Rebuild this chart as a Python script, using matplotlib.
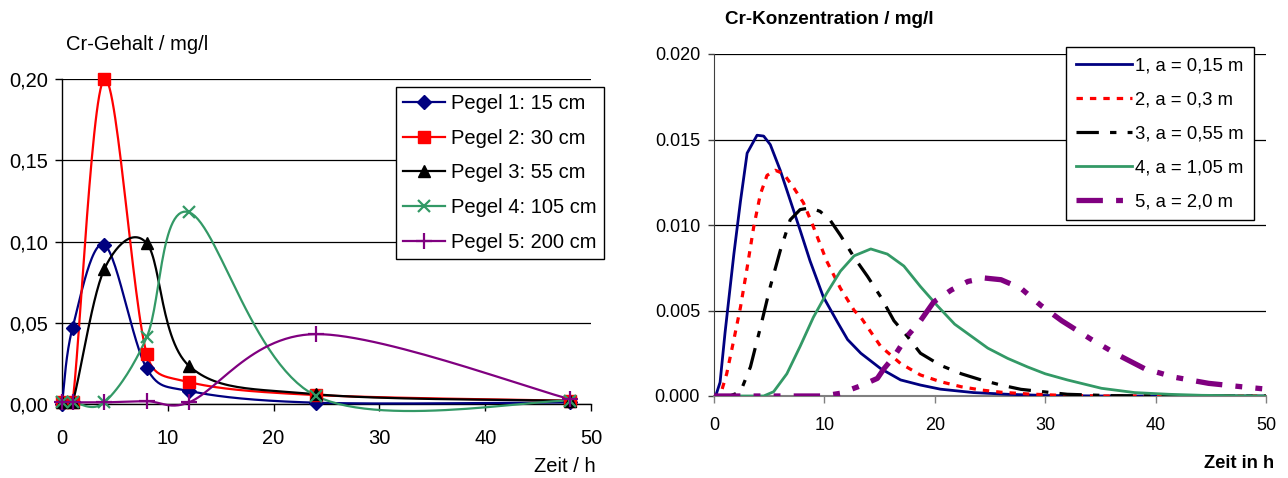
import numpy as np
import matplotlib
matplotlib.use("Agg")
import matplotlib.pyplot as plt
from matplotlib.lines import Line2D

plt.rcParams['font.family'] = ['Liberation Sans', 'DejaVu Sans']

# ---------------- Left chart: measured data ----------------
zeit_mess = [0, 1, 4, 8, 12, 24, 48]
pegel_labels = ["Pegel 1: 15 cm", "Pegel 2: 30 cm", "Pegel 3: 55 cm",
                "Pegel 4: 105 cm", "Pegel 5: 200 cm"]
pegel1 = [0.000, 0.047, 0.098, 0.022, 0.008, 0.0008, 0.001]
pegel2 = [0.001, 0.001, 0.200, 0.031, 0.0135, 0.0055, 0.002]
pegel3 = [0.001, 0.001, 0.083, 0.099, 0.0235, 0.006, 0.002]
pegel4 = [0.001, 0.001, 0.001, 0.041, 0.118, 0.005, 0.002]
pegel5 = [0.001, 0.001, 0.001, 0.0017, 0.001, 0.043, 0.003]
left_yticks = [0.00, 0.05, 0.10, 0.15, 0.20]
left_yticklabels = ["0,00", "0,05", "0,10", "0,15", "0,20"]
xticks = [0, 10, 20, 30, 40, 50]

# ---------------- Right chart: model curves ----------------
model_labels = ["1, a = 0,15 m", "2, a = 0,3 m", "3, a = 0,55 m",
                "4, a = 1,05 m", "5, a = 2,0 m"]
t1 = [0, 0.15, 0.55, 1.0, 1.8, 2.4, 3.0, 3.9, 4.5, 5.1, 6.0, 6.9, 7.8, 8.7, 9.9,
      11.2, 12.1, 13.3, 15.1, 16.9, 18.7, 20.5, 23.5, 26.6, 30, 35, 40, 50]
c1 = [0, 0, 0.0008, 0.0037, 0.0083, 0.0114, 0.0142, 0.01525, 0.0152, 0.0147,
      0.0132, 0.01145, 0.0097, 0.0079, 0.0058, 0.0043, 0.0033, 0.0025, 0.0016,
      0.00094, 0.00064, 0.0004, 0.0002, 0.0001, 0.00003, 0, 0, 0]
t2 = [0, 0.55, 1.15, 1.8, 2.4, 3.0, 3.6, 4.2, 4.8, 5.55, 6.3, 7.2, 8.1, 9.0, 10.2,
      11.45, 12.7, 13.3, 15.1, 16.9, 18.7, 20.5, 22.4, 24.2, 26.0, 28.4, 31, 35,
      40, 50]
c2 = [0, 0, 0.0013, 0.0033, 0.0052, 0.0075, 0.0099, 0.0118, 0.0129, 0.0132,
      0.0130, 0.0122, 0.0113, 0.0099, 0.0079, 0.0063, 0.0050, 0.0046, 0.0029,
      0.0019, 0.00123, 0.00084, 0.00054, 0.00035, 0.00022, 0.00012, 0.00005,
      0, 0, 0]
t3 = [0, 1.45, 2.4, 3.3, 4.2, 5.1, 6.0, 6.9, 7.8, 8.7, 9.6, 10.5, 11.45, 12.7,
      13.9, 15.1, 16.3, 17.5, 18.7, 20.5, 22.4, 24.2, 26.0, 27.8, 29.8, 32, 36,
      42, 50]
c3 = [0, 0, 0.00025, 0.0017, 0.0040, 0.0064, 0.0085, 0.0103, 0.0109, 0.0110,
      0.0108, 0.0103, 0.0094, 0.0081, 0.0070, 0.0058, 0.0044, 0.0035, 0.0025,
      0.0018, 0.0013, 0.00094, 0.00064, 0.00039, 0.00025, 0.0001, 0.00002, 0, 0]
t4 = [0, 4.5, 5.4, 6.6, 7.8, 9.0, 10.2, 11.45, 12.7, 14.2, 15.7, 17.2, 18.7,
      20.2, 21.8, 23.3, 24.8, 26.6, 28.4, 30.0, 32.0, 35.1, 38.1, 41.2, 44.2, 50]
c4 = [0, 0, 0.00025, 0.0013, 0.0029, 0.0046, 0.0060, 0.0073, 0.0082, 0.0086,
      0.0083, 0.0076, 0.0064, 0.0053, 0.0042, 0.0035, 0.0028, 0.0022, 0.0017,
      0.0013, 0.00094, 0.00045, 0.0002, 0.0001, 0.00004, 0]
t5 = [0, 9.9, 11.45, 13.3, 14.8, 15.4, 16.3, 17.5, 18.7, 19.9, 21.5, 23.0, 24.5,
      26.0, 27.8, 29.6, 31.5, 34.2, 36.6, 39.0, 41.7, 44.8, 47.8, 50.2]
c5 = [0, 0, 0.00016, 0.0006, 0.00103, 0.0016, 0.0023, 0.0035, 0.0044, 0.0055,
      0.0062, 0.0067, 0.0069, 0.0068, 0.0063, 0.0053, 0.0044, 0.0033, 0.0024,
      0.0016, 0.0011, 0.00074, 0.00054, 0.00039]
right_yticks = [0.000, 0.005, 0.010, 0.015, 0.020]
right_yticklabels = ["0.000", "0.005", "0.010", "0.015", "0.020"]


def smooth(ax, xs, ys, n=30):
    """Excel-like smoothed line: Bezier through the points, computed in
    display space with control arms limited to half the segment length."""
    P = ax.transData.transform(np.column_stack([xs, ys]).astype(float))
    out = [P[0]]
    m = len(P)
    for i in range(m - 1):
        p0 = P[i - 1] if i > 0 else P[i]
        p1, p2 = P[i], P[i + 1]
        p3 = P[i + 2] if i + 2 < m else P[i + 1]
        d12 = np.hypot(*(p2 - p1))
        d02 = np.hypot(*(p2 - p0))
        d13 = np.hypot(*(p3 - p1))
        f1 = 1 / 6.0
        f2 = 1 / 6.0
        if d02 / 6.0 > d12 / 2.0 and d02 > 0:
            f1 = d12 / (2.0 * d02)
        if d13 / 6.0 > d12 / 2.0 and d13 > 0:
            f2 = d12 / (2.0 * d13)
        b1 = p1 + f1 * (p2 - p0)
        b2 = p2 - f2 * (p3 - p1)
        s = np.linspace(0, 1, n)[1:, None]
        seg = ((1 - s) ** 3) * p1 + 3 * ((1 - s) ** 2) * s * b1 + \
            3 * (1 - s) * s ** 2 * b2 + s ** 3 * p2
        out.extend(seg)
    out = ax.transData.inverted().transform(np.array(out))
    return out[:, 0], out[:, 1]


fig = plt.figure(figsize=(12.88, 4.78), dpi=100)

# ---------------- Left axes ----------------
axL = fig.add_axes([62 / 1288, 1 - 404 / 478, (591 - 62) / 1288, (404 - 79) / 478])
axL.set_xlim(0, 50)
axL.set_ylim(0, 0.20)
styles = [
    dict(color="#000080", marker="D", ms=7, mew=1),
    dict(color="#FF0000", marker="s", ms=8, mew=1),
    dict(color="#000000", marker="^", ms=9, mew=1),
    dict(color="#339966", marker="x", ms=9, mew=1.6),
    dict(color="#800080", marker="+", ms=11, mew=1.6),
]
series = [pegel1, pegel2, pegel3, pegel4, pegel5]
handles = []
for vals, st, lab in zip(series, styles, pegel_labels):
    sx, sy = smooth(axL, zeit_mess, vals)
    axL.plot(sx, sy, color=st["color"], lw=1.6, clip_on=False, zorder=3)
    axL.plot(zeit_mess, vals, ls="none", marker=st["marker"], ms=st["ms"],
             mew=st["mew"], color=st["color"], clip_on=False, zorder=4)
    handles.append(Line2D([], [], color=st["color"], lw=1.6, marker=st["marker"],
                          ms=st["ms"], mew=st["mew"], label=lab))

axL.set_xlim(0, 50)
axL.set_ylim(0, 0.20)
axL.set_xticks(xticks)
axL.set_xticklabels([str(v) for v in xticks])
axL.set_yticks(left_yticks)
axL.set_yticklabels(left_yticklabels)
for s in ["top", "right"]:
    axL.spines[s].set_visible(False)
for s in ["left", "bottom"]:
    axL.spines[s].set_color("#000000")
    axL.spines[s].set_linewidth(1.0)
axL.yaxis.grid(True, color="#000000", lw=0.9)
axL.set_axisbelow(True)
axL.tick_params(axis="both", direction="out", length=5, width=1, colors="#000000",
                labelsize=14.5)
axL.tick_params(axis="x", pad=13)
axL.tick_params(axis="y", pad=5)

fig.legend(handles=handles, loc="upper left",
           bbox_to_anchor=(396 / 1288, 1 - 87 / 478), fontsize=14.5,
           frameon=True, fancybox=False, framealpha=1, edgecolor="#000000",
           handlelength=2.1, handletextpad=0.3, labelspacing=0.78,
           borderpad=0.35, borderaxespad=0)

fig.text(66 / 1288, 1 - 45 / 478, "Cr-Gehalt / mg/l", fontsize=14.5,
         ha="left", va="center")
fig.text(596 / 1288, 1 - 466 / 478, "Zeit / h", fontsize=14.5,
         ha="right", va="center")

# ---------------- Right axes ----------------
axR = fig.add_axes([714 / 1288, 1 - 396 / 478, (1266 - 714) / 1288, (396 - 54) / 478])
mstyles = [
    dict(color="#000080", lw=2.0, ls="-"),
    dict(color="#FF0000", lw=2.3, ls=(0, (2.0, 2.2))),
    dict(color="#000000", lw=2.3, ls=(0, (7, 3.5, 2, 3.5))),
    dict(color="#339966", lw=2.0, ls="-"),
    dict(color="#800080", lw=3.8, ls=(0, (5, 2.5, 1.3, 2.5, 1.3, 2.5))),
]
curves = [(t1, c1), (t2, c2), (t3, c3), (t4, c4), (t5, c5)]
for (tx, cy), st, lab in zip(curves, mstyles, model_labels):
    axR.plot(tx, cy, color=st["color"], lw=st["lw"], ls=st["ls"], label=lab,
             zorder=3)

axR.set_xlim(0, 50)
axR.set_ylim(0, 0.020)
axR.set_xticks(xticks)
axR.set_xticklabels([str(v) for v in xticks])
axR.set_yticks(right_yticks)
axR.set_yticklabels(right_yticklabels)
for s in ["top", "right"]:
    axR.spines[s].set_visible(False)
axR.spines["left"].set_color("#404040")
axR.spines["bottom"].set_color("#808080")
axR.spines["bottom"].set_linewidth(1.5)
axR.yaxis.grid(True, color="#000000", lw=0.9)
axR.set_axisbelow(True)
axR.tick_params(axis="x", direction="out", length=5, width=1, colors="#808080",
                labelcolor="#000000", labelsize=13, pad=10)
axR.tick_params(axis="y", direction="out", length=4, width=1, colors="#404040",
                labelcolor="#000000", labelsize=13, pad=6)

fig.legend(handles=axR.get_lines(), labels=model_labels, loc="upper left",
           bbox_to_anchor=(1066 / 1288, 1 - 47 / 478), fontsize=13.3,
           frameon=True, fancybox=False, framealpha=1, edgecolor="#000000",
           handlelength=3.0, handletextpad=0.2, labelspacing=0.92,
           borderpad=0.55, borderaxespad=0)

fig.text(725 / 1288, 1 - 20 / 478, "Cr-Konzentration / mg/l", fontsize=13.6,
         fontweight="bold", ha="left", va="center")
fig.text(1274 / 1288, 1 - 464 / 478, "Zeit in h", fontsize=13.2,
         fontweight="bold", ha="right", va="center")

fig.savefig("out.png", dpi=100)
